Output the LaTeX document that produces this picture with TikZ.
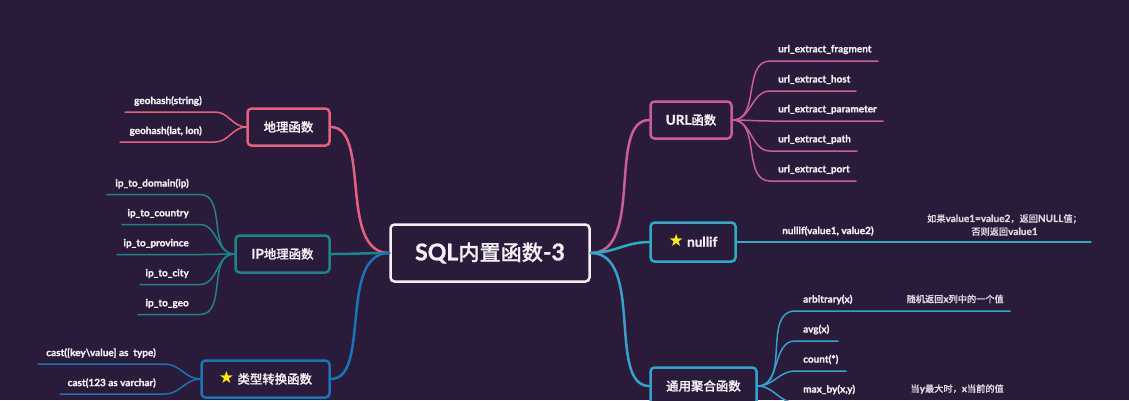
\documentclass[tikz,border=0pt]{standalone}
\usepackage{fontspec}
\setmainfont{Lato}[BoldFeatures={FakeBold=1.2}]
\newfontfamily\cjk{Noto Sans CJK SC}[Scale=0.92, BoldFont={Noto Sans CJK SC Medium}, BoldFeatures={FakeBold=0.6}]
\newfontfamily\symb{DejaVu Sans}
\usepackage{xcolor}

\definecolor{bgdark}{HTML}{2A1B3B}
\definecolor{geopink}{HTML}{E4617F}
\definecolor{ipteal}{HTML}{1F8389}
\definecolor{castblue}{HTML}{1B74B4}
\definecolor{urlpink}{HTML}{C95F94}
\definecolor{nulcyan}{HTML}{2BAEBF}
\definecolor{aggblue}{HTML}{37A0CB}
\definecolor{textwhite}{HTML}{F3EFF3}

\newcommand{\staricon}{{\symb\fontsize{17}{17}\selectfont\color{yellow}★}}

\tikzset{
  rootbox/.style={draw=textwhite, line width=2.5pt, rounded corners=4pt, fill=bgdark, text=textwhite, font=\bfseries\fontsize{23}{26}\selectfont, minimum width=199pt, minimum height=57pt, inner sep=0pt},
  funcbox/.style={line width=2.5pt, rounded corners=4pt, fill=bgdark, text=textwhite, font=\bfseries\fontsize{13.5}{16}\selectfont, minimum height=37pt, inner sep=0pt, text height=11pt, text depth=1.6pt},
  leaf/.style={text=textwhite, font=\bfseries\fontsize{10}{12}\selectfont, inner sep=0pt},
  note/.style={text=textwhite!88!bgdark, font=\bfseries\fontsize{10}{13}\selectfont, inner sep=0pt, align=center},
  trunk/.style={line width=2.5pt, line cap=round},
  twig/.style={line width=1.5pt, line cap=round},
  rootside/.style={out=0, in=180, out looseness=0.95, in looseness=0.75},
  boxside/.style={out=0, in=180, out looseness=0.75, in looseness=0.95}
}

\begin{document}
\begin{tikzpicture}[x=1pt, y=-1pt]
  \fill[bgdark] (0,0) rectangle (1129,400);
  \useasboundingbox (0,0) rectangle (1129,400);

  \node[rootbox] (root) at (490,253) {SQL{\cjk 内置函数}-3};

  \node[funcbox, draw=geopink, minimum width=82pt] (geo) at (288.5,127) {\cjk 地理函数};
  \node[funcbox, draw=ipteal, minimum width=94pt] (ipfn) at (282.5,254) {IP{\cjk 地理函数}};
  \node[funcbox, draw=castblue, minimum width=128pt] (cast) at (265.5,379) {\staricon\ {\cjk 类型转换函数}};
  \node[funcbox, draw=urlpink, minimum width=81pt] (url) at (691,120) {URL{\cjk 函数}};
  \node[funcbox, draw=nulcyan, minimum width=85pt, minimum height=39pt] (nul) at (693,242) {\staricon\ nullif};
  \node[funcbox, draw=aggblue, minimum width=106pt] (agg) at (703.5,386) {\cjk 通用聚合函数};

  % main branches
  \draw[trunk, geopink] (geo.east) to[boxside] (root.west);
  \draw[trunk, ipteal] (ipfn.east) to[out=0, in=180] (root.west);
  \draw[trunk, castblue] (cast.east) to[boxside] (root.west);
  \draw[trunk, urlpink] (root.east) to[rootside] (url.west);
  \draw[trunk, nulcyan] (root.east) to[out=0, in=180] (nul.west);
  \draw[trunk, aggblue] (root.east) to[rootside] (agg.west);

  % left side leaves
  \foreach \n/\y/\s/\b/\txt in {1/97/125/215/geohash(string), 2/127/120/215/{geohash(lat, lon)}} {
    \coordinate (geoa\n) at (\b,\y+15);
    \coordinate (geob\n) at (\s,\y+15);
    \node[leaf, anchor=east] (geot\n) at (202,\y+4) {\txt};
    \draw[twig, geopink] (geo.west) to[out=180, in=0] (geoa\n) -- (geob\n);
  }
  \foreach \n/\y/\s/\b/\txt in {1/194.5/107/200/ip\_to\_domain(ip), 2/224.5/122/200/ip\_to\_country, 3/254.5/117/200/ip\_to\_province, 4/284.5/140/200/ip\_to\_city, 5/314.5/138/200/ip\_to\_geo} {
    \coordinate (ipa\n) at (\b,\y);
    \coordinate (ipb\n) at (\s,\y);
    \node[leaf, anchor=east] (ipt\n) at (189,\y-11) {\txt};
    \draw[twig, ipteal] (ipfn.west) to[out=180, in=0] (ipa\n) -- (ipb\n);
  }
  \foreach \n/\y/\s/\b/\txt in {1/364/38/165/{cast([key\textbackslash value] as\ \ type)}, 2/394/60/165/{cast(123 as varchar)}} {
    \coordinate (casta\n) at (\b,\y);
    \coordinate (castb\n) at (\s,\y);
    \node[leaf, anchor=east] (castt\n) at (156,\y-11) {\txt};
    \draw[twig, castblue] (cast.west) to[out=180, in=0] (casta\n) -- (castb\n);
  }

  % right side leaves
  \foreach \n/\y/\e/\txt in {1/61/878/url\_extract\_fragment, 2/91/856/url\_extract\_host, 3/121/883/url\_extract\_parameter, 4/151/857/url\_extract\_path, 5/181/856/url\_extract\_port} {
    \coordinate (urla\n) at (770,\y);
    \coordinate (urlb\n) at (\e,\y);
    \node[leaf, anchor=west] (urlt\n) at (778,\y-11.5) {\txt};
    \draw[twig, urlpink] (url.east) to[out=0, in=180] (urla\n) -- (urlb\n);
  }
  \coordinate (nulb) at (1091,242);
  \node[leaf, anchor=west] (nult) at (782,231) {nullif(value1, value2)};
  \draw[twig, nulcyan] (nul.east) -- (nulb);
  \node[note] (nulnote) at (1004.5,225) {{\cjk 如果}value1=value2{\cjk ，返回}NULL{\cjk 值；}\\{\cjk 否则返回}value1};

  \foreach \n/\y/\l/\e/\txt in {1/311/299.5/1010/arbitrary(x), 2/341/329.5/838/avg(x), 3/371/359.5/846/count(*), 4/402.5/389.5/1005/{max\_by(x,y)}} {
    \coordinate (agga\n) at (795,\y);
    \coordinate (aggb\n) at (\e,\y);
    \node[leaf, anchor=west] (aggt\n) at (803,\l) {\txt};
    \draw[twig, aggblue] (agg.east) to[out=0, in=180] (agga\n) -- (aggb\n);
  }
  \node[note, anchor=east] (aggnote1) at (1004,299) {{\cjk 随机返回}x{\cjk 列中的一个值}};
  \node[note, anchor=east] (aggnote2) at (1004,389) {{\cjk 当}y{\cjk 最大时，}x{\cjk 当前的值}};
\end{tikzpicture}
\end{document}
